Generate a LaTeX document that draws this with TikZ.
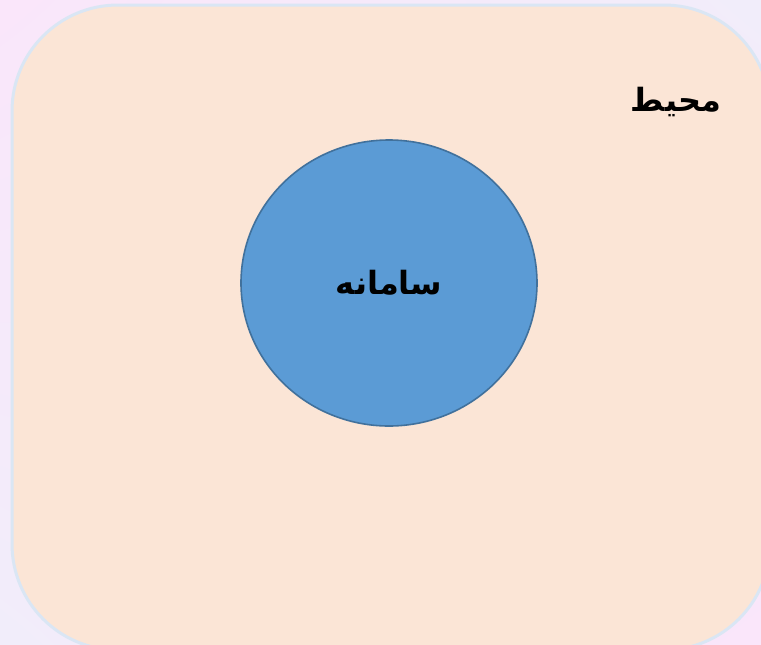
\documentclass[tikz,border=0pt]{standalone}
\usepackage{fontspec}
\TeXXeTstate=1
\newfontfamily\arabicfont[Script=Arabic]{DejaVu Sans}
\usetikzlibrary{positioning,shapes.geometric,shadings}
\definecolor{PagePink}{RGB}{250,230,250}
\definecolor{PageLilac}{RGB}{241,237,250}
\definecolor{EnvPeach}{RGB}{251,229,214}
\definecolor{EnvEdge}{RGB}{218,230,244}
\definecolor{SysBlue}{RGB}{91,155,213}
\definecolor{SysEdge}{RGB}{65,113,156}
\tikzset{
  envbox/.style={draw=EnvEdge,fill=EnvPeach,line width=1.5pt,rounded corners=53pt,minimum width=379pt,minimum height=322.5pt,inner sep=0pt},
  sysnode/.style={draw=SysEdge,fill=SysBlue,line width=0.8pt,ellipse,minimum width=148pt,minimum height=143pt,inner sep=0pt,font=\arabicfont\bfseries\fontsize{16}{18}\selectfont},
  envlabel/.style={font=\arabicfont\bfseries\fontsize{16}{18}\selectfont,inner sep=0pt}
}
\begin{document}
\begin{tikzpicture}[x=0.5pt,y=-0.5pt]
\useasboundingbox (0,0) rectangle (761,644);
\clip (0,0) rectangle (761,644);
\shade[upper left=PagePink,upper right=PageLilac,lower left=PageLilac,lower right=PagePink] (0,0) rectangle (761,644);

\node[envbox] (env) at (391,327.5) {};
\node[sysnode] (sys) at (389,283) {\beginR سامانه\endR};
\node[envlabel] (envname) at (676,102) {\beginR محیط\endR};
\end{tikzpicture}
\end{document}
